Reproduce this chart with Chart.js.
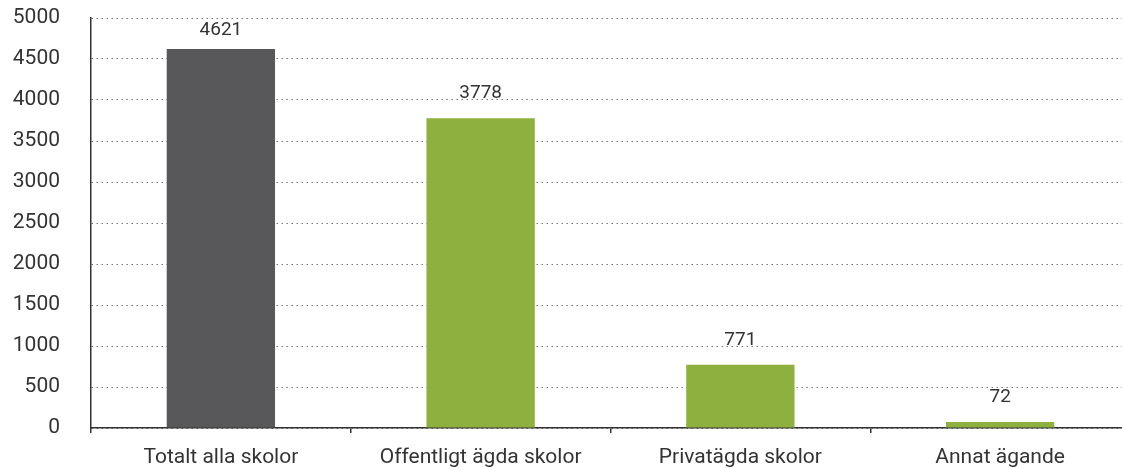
<!DOCTYPE html>
<html>
<head>
<meta charset="utf-8">
<script src="https://cdn.jsdelivr.net/npm/chart.js@4/dist/chart.umd.min.js"></script>
<style>
  html, body { margin: 0; padding: 0; background: #fff; overflow: hidden; }
  #wrap { width: 1130px; height: 468px; position: relative; }
</style>
</head>
<body>
<div id="wrap"><canvas id="c"></canvas></div>
<script>
const categories = ["Totalt alla skolor", "Offentligt ägda skolor", "Privatägda skolor", "Annat ägande"];
const values = [4621, 3778, 771, 72];
const barColors = ["#58585a", "#8eb03e", "#8eb03e", "#8eb03e"];
const yMin = 0, yMax = 5000, yStep = 500;

const FONT = "Roboto, 'Noto Sans', sans-serif";

const valueLabels = {
  id: 'valueLabels',
  afterDatasetsDraw(chart) {
    const ctx = chart.ctx;
    const meta = chart.getDatasetMeta(0);
    ctx.save();
    ctx.font = "19px " + FONT;
    ctx.fillStyle = "#333";
    ctx.textAlign = "center";
    ctx.textBaseline = "middle";
    meta.data.forEach((bar, i) => {
      const y = Math.max(bar.y - 25, chart.chartArea.top + 12);
      ctx.fillText(String(values[i]), bar.x, y);
    });
    ctx.restore();
  }
};

new Chart(document.getElementById('c'), {
  type: 'bar',
  data: {
    labels: categories,
    datasets: [{
      data: values,
      backgroundColor: barColors,
      barPercentage: 0.417,
      categoryPercentage: 1.0
    }]
  },
  options: {
    responsive: true,
    maintainAspectRatio: false,
    animation: false,
    layout: { padding: { top: 18, left: 0, right: 0, bottom: 0 } },
    plugins: { legend: { display: false }, tooltip: { enabled: false } },
    scales: {
      x: {
        grid: { display: true, drawOnChartArea: false, drawTicks: true, tickLength: 5, color: "#333", lineWidth: 1.5 },
        border: { display: true, color: "#333", width: 1.5 },
        ticks: { color: "#333", font: { family: FONT, size: 21 }, padding: 12 },
        afterFit(scale) { scale.height = 40; }
      },
      y: {
        min: yMin, max: yMax,
        grid: { color: "#777", lineWidth: 1, drawTicks: true, tickLength: 29, tickColor: "rgba(0,0,0,0)" },
        border: { display: true, color: "#333", width: 1.5, dash: [1.5, 3.5] },
        ticks: {
          stepSize: yStep, color: "#333", font: { family: FONT, size: 21 }, padding: 2,
          callback: (v) => String(v)
        },
        afterFit(scale) { scale.width = 91; }
      }
    }
  },
  plugins: [valueLabels]
});
</script>
</body>
</html>
